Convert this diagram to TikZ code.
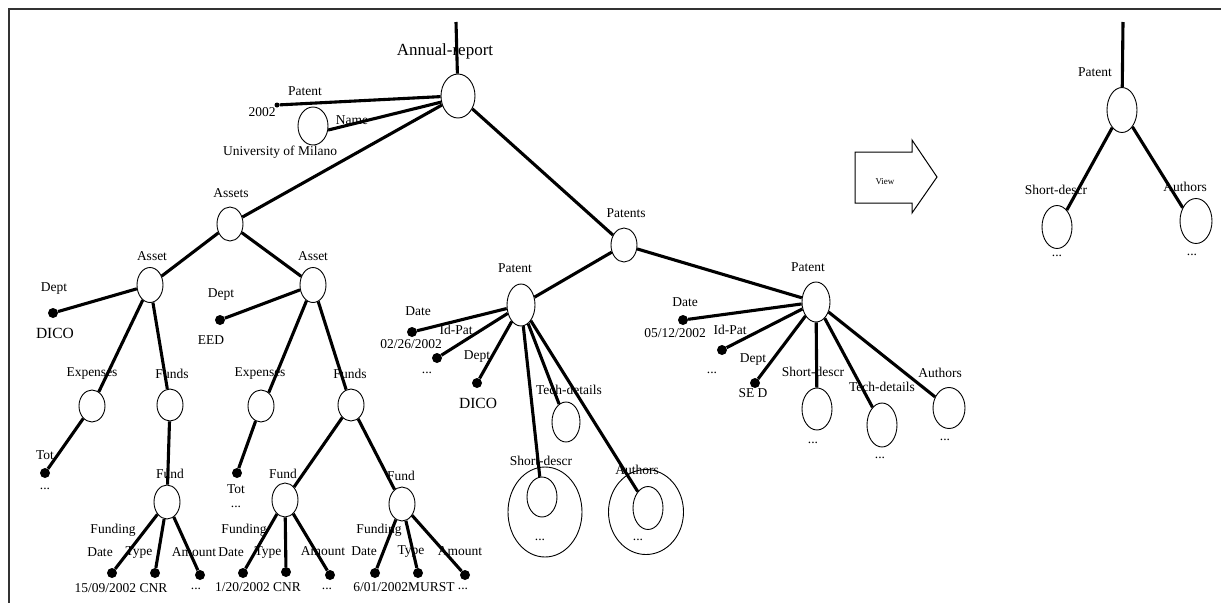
\documentclass[tikz,border=0pt]{standalone}
\usepackage{fontspec}
\setmainfont{Liberation Serif}
\usetikzlibrary{shapes.geometric}
\begin{document}
\begin{tikzpicture}[x=1pt,y=-1pt,
  el/.style={ellipse,draw,line width=0.9pt,minimum width=26pt,minimum height=34pt,inner sep=0pt},
  dot/.style={circle,fill,inner sep=0pt,minimum size=10pt},
  lbl/.style={font=\fontsize{13.5}{15}\selectfont,inner sep=0pt},
  biglbl/.style={font=\fontsize{15.5}{17}\selectfont,inner sep=0pt},
  conn/.style={line width=3.1pt},
  frame/.style={line width=1.3pt,black!80}]
\useasboundingbox (0,0) rectangle (1221,603);
% frame
\coordinate (f1) at (8,9); \coordinate (f2) at (1221,9); \coordinate (f3) at (9,9); \coordinate (f4) at (9,603);
\draw[frame] (f1) -- (f2); \draw[frame] (f3) -- (f4);

% ---------- root ----------
\node[el,minimum width=34pt,minimum height=44pt] (ar) at (458,96) {};
\coordinate (artop) at (456,22);
\node[font=\fontsize{17}{19}\selectfont,inner sep=0pt] (arl) at (445,51) {Annual-report};
\draw[conn] (artop) -- (ar);

\node[el,minimum width=30pt,minimum height=38pt] (uni) at (313,126) {};
\node[lbl] (patl0) at (305,91) {Patent};
\node[lbl] (y2002) at (262,112) {2002};
\node[dot,minimum size=5pt] (d2002) at (277,105) {};
\node[lbl] (namel) at (352,120) {Name};
\node[lbl] (unil) at (280,152) {University of Milano};
\draw[conn] (d2002) -- (ar.182);
\draw[conn] (uni.-15) -- (ar.200);

% ---------- Assets ----------
\node[el] (assets) at (230,224) {};
\node[lbl] (assetsl) at (231,193) {Assets};
\draw[conn] (ar) -- (assets);

\node[el,minimum height=35pt] (assetL) at (150,285) {};
\node[lbl] (assetLl) at (152,256) {Asset};
\node[el,minimum height=35pt] (assetR) at (313,285) {};
\node[lbl] (assetRl) at (313,256) {Asset};
\draw[conn] (assets) -- (assetL);
\draw[conn] (assets) -- (assetR);

% left asset
\node[lbl] (deptLl) at (54,289) {Dept};
\node[dot] (deptL) at (53,313) {};
\node[biglbl] (dicoL) at (55,333) {DICO};
\draw[conn] (deptL) -- (assetL);
\node[el,minimum height=32pt] (expL) at (92,406) {};
\node[lbl] (expLl) at (92,374) {Expenses};
\node[el,minimum height=32pt] (fundsL) at (170,405) {};
\node[lbl] (fundsLl) at (172,374) {Funds};
\draw[conn] (assetL) -- (expL);
\draw[conn] (assetL) -- (fundsL);
\node[lbl] (totLl) at (45,455) {Tot};
\node[dot] (totL) at (45,473) {};
\node[lbl] (totLd) at (45,489) {...};
\draw[conn] (expL) -- (totL);
\node[el] (fundL) at (167,502) {};
\node[lbl] (fundLl) at (170,474) {Fund};
\draw[conn] (fundsL) -- (fundL);
\node[lbl] (fgL) at (113,530) {Funding};
\node[lbl] (dtL) at (100,552) {Date};
\node[lbl] (tyL) at (139,553) {Type};
\node[lbl] (amL) at (194,552) {Amount};
\node[dot] (dtLd) at (112,573) {};
\node[dot] (tyLd) at (155,573) {};
\node[dot] (amLd) at (200,575) {};
\node[lbl] (vL) at (121,588) {15/09/2002 CNR};
\node[lbl] (amLv) at (196,589) {...};
\draw[conn] (fundL) -- (dtLd);
\draw[conn] (fundL) -- (tyLd);
\draw[conn] (fundL) -- (amLd);

% right asset
\node[lbl] (deptRl) at (221,295) {Dept};
\node[dot] (deptR) at (220,320) {};
\node[lbl] (eed) at (211,340) {EED};
\draw[conn] (deptR) -- (assetR);
\node[el,minimum height=32pt] (expR) at (261,406) {};
\node[lbl] (expRl) at (260,374) {Expenses};
\node[el,minimum height=32pt] (fundsR) at (351,405) {};
\node[lbl] (fundsRl) at (350,374) {Funds};
\draw[conn] (assetR) -- (expR.60);
\draw[conn] (assetR) -- (fundsR);
\node[dot] (totR) at (237,473) {};
\node[lbl] (totRl) at (236,489) {Tot};
\node[lbl] (totRd) at (236,507) {...};
\draw[conn] (expR) -- (totR);
\node[el] (fundM) at (285,500) {};
\node[lbl] (fundMl) at (283,474) {Fund};
\node[el] (fundR) at (402,504) {};
\node[lbl] (fundRl) at (401,476) {Fund};
\draw[conn] (fundsR) -- (fundM);
\draw[conn] (fundsR) -- (fundR);
\node[lbl] (fgM) at (244,530) {Funding};
\node[lbl] (dtM) at (231,552) {Date};
\node[lbl] (tyM) at (268,553) {Type};
\node[lbl] (amM) at (323,551) {Amount};
\node[dot] (dtMd) at (243,573) {};
\node[dot] (tyMd) at (286,572) {};
\node[dot] (amMd) at (330,575) {};
\node[lbl] (vM) at (258,587) {1/20/2002 CNR};
\node[lbl] (amMv) at (327,589) {...};
\draw[conn] (fundM) -- (dtMd);
\draw[conn] (fundM) -- (tyMd);
\draw[conn] (fundM) -- (amMd);
\node[lbl] (fgR) at (379,530) {Funding};
\node[lbl] (dtR) at (364,551) {Date};
\node[lbl] (tyR) at (411,552) {Type};
\node[lbl] (amR) at (460,551) {Amount};
\node[dot] (dtRd) at (375,573) {};
\node[dot] (tyRd) at (418,573) {};
\node[dot] (amRd) at (465,575) {};
\node[lbl] (vR) at (404,587) {6/01/2002MURST};
\node[lbl] (amRv) at (463,589) {...};
\draw[conn] (fundR) -- (dtRd);
\draw[conn] (fundR) -- (tyRd);
\draw[conn] (fundR) -- (amRd);

% ---------- Patents ----------
\node[el] (patents) at (624,245) {};
\node[lbl] (patentsl) at (626,213) {Patents};
\draw[conn] (ar) -- (patents);

\node[el,minimum width=28pt,minimum height=42pt] (patL) at (521,305) {};
\node[lbl] (patLl) at (515,268) {Patent};
\node[el,minimum width=28pt,minimum height=40pt] (patR) at (816,302) {};
\node[lbl] (patRl) at (808,267) {Patent};
\draw[conn] (patents) -- (patL);
\draw[conn] (patents) -- (patR);

% left patent
\node[lbl] (pdtLl) at (418,311) {Date};
\node[dot] (pdtL) at (412,332) {};
\node[lbl] (pdtLv) at (411,344) {02/26/2002};
\draw[conn] (pdtL) -- (patL);
\node[lbl] (pidLl) at (456,330) {Id-Pat};
\node[dot] (pidL) at (437,358) {};
\node[lbl] (pidLv) at (427,373) {...};
\draw[conn] (pidL) -- (patL);
\node[lbl] (pdpLl) at (477,357) {Dept};
\node[dot] (pdpL) at (477,383) {};
\node[biglbl] (pdpLv) at (478,403) {DICO};
\draw[conn] (pdpL) -- (patL);
\node[el,minimum width=28pt,minimum height=40pt] (ptdL) at (566,422) {};
\node[lbl] (ptdLl) at (569,390) {Tech-details};
\draw[conn] (patL) -- (ptdL);
\node[el,minimum width=74pt,minimum height=90pt] (psdLo) at (545,512) {};
\node[el,minimum width=30pt,minimum height=40pt] (psdL) at (542,497) {};
\node[lbl] (psdLl) at (541,461) {Short-descr};
\node[lbl] (psdLv) at (540,540) {...};
\draw[conn] (patL) -- (psdL);
\node[el,minimum width=75pt,minimum height=85pt] (pauLo) at (646,512) {};
\node[el,minimum width=30pt,minimum height=43pt] (pauL) at (648,508) {};
\node[lbl] (pauLl) at (637,470) {Authors};
\node[lbl] (pauLv) at (638,540) {...};
\draw[conn] (patL) -- (pauL);

% right patent
\node[lbl] (pdtRl) at (685,302) {Date};
\node[dot] (pdtR) at (683,320) {};
\node[lbl] (pdtRv) at (675,333) {05/12/2002};
\draw[conn] (pdtR) -- (patR);
\node[lbl] (pidRl) at (730,330) {Id-Pat};
\node[dot] (pidR) at (722,350) {};
\node[lbl] (pidRv) at (712,373) {...};
\draw[conn] (pidR) -- (patR);
\node[lbl] (pdpRl) at (753,360) {Dept};
\node[lbl] (pdpRv) at (753,393) {SE D};
\node[dot] (pdpR) at (755,383) {};
\draw[conn] (pdpR) -- (patR);
\node[el,minimum width=30pt,minimum height=42pt] (psdR) at (817,409) {};
\node[lbl] (psdRl) at (813,372) {Short-descr};
\node[lbl] (psdRv) at (813,443) {...};
\draw[conn] (patR) -- (psdR);
\node[el,minimum width=30pt,minimum height=44pt] (ptdR) at (882,425) {};
\node[lbl] (ptdRl) at (882,387) {Tech-details};
\node[lbl] (ptdRv) at (880,458) {...};
\draw[conn] (patR) -- (ptdR);
\node[el,minimum width=32pt,minimum height=41pt] (pauR) at (949,408) {};
\node[lbl] (pauRl) at (940,373) {Authors};
\node[lbl] (pauRv) at (945,440) {...};
\draw[conn] (patR) -- (pauR);

% ---------- View arrow ----------
\draw[line width=1pt] (855,152) -- (912,152) -- (912,140) -- (937,177) -- (912,213) -- (912,203) -- (855,203) -- cycle;
\node[font=\fontsize{9}{10}\selectfont,inner sep=0pt] (view) at (885,182) {View};

% ---------- view tree ----------
\node[el,minimum width=30pt,minimum height=45pt] (vpat) at (1122,110) {};
\coordinate (vtop) at (1123,22);
\draw[conn] (vtop) -- (vpat);
\node[lbl] (vpatl) at (1095,72) {Patent};
\node[el,minimum width=30pt,minimum height=43pt] (vsd) at (1057,227) {};
\node[lbl] (vsdl) at (1056,190) {Short-descr};
\node[lbl] (vsdv) at (1057,256) {...};
\node[el,minimum width=32pt,minimum height=45pt] (vau) at (1196,221) {};
\node[lbl] (vaul) at (1185,187) {Authors};
\node[lbl] (vauv) at (1192,255) {...};
\draw[conn] (vpat) -- (vsd.60);
\draw[conn] (vpat) -- (vau.135);
\end{tikzpicture}
\end{document}
